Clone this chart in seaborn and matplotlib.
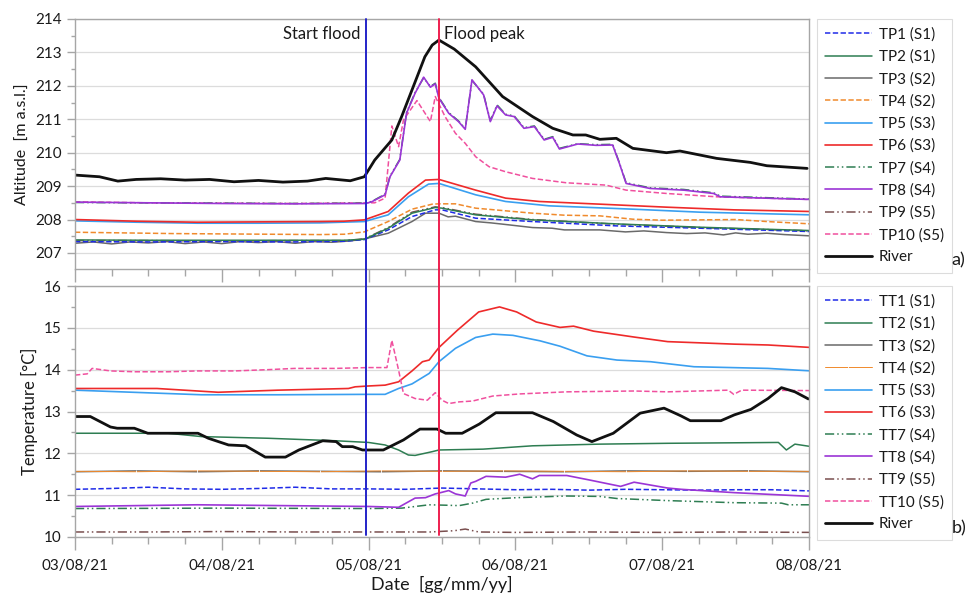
import matplotlib
matplotlib.use("Agg")
import matplotlib.pyplot as plt
from matplotlib.ticker import MultipleLocator
import seaborn as sns
import pandas as pd

# ---------------- data (hours since 03/08/21 00:00) ----------------
DAY_LABELS = ["03/08/21", "04/08/21", "05/08/21", "06/08/21", "07/08/21", "08/08/21"]
START_FLOOD_H = 47.5
FLOOD_PEAK_H = 59.5

# --- panel a) water levels [m a.s.l.]
TP1_H = [0, 12, 24, 36, 44, 47.3, 51.2, 55.1, 58.9, 60, 65.5, 74.8, 88.5, 102.2, 120.3]
TP1_V = [207.34, 207.33, 207.34, 207.33, 207.35, 207.40, 207.69, 208.09, 208.29, 208.29, 208.04, 207.94, 207.81, 207.74, 207.64]
TP2_H = [0, 12, 24, 36, 44, 47.3, 51.2, 55.1, 58.9, 60, 65.5, 74.8, 88.5, 102.2, 120.3]
TP2_V = [207.39, 207.38, 207.38, 207.38, 207.38, 207.41, 207.74, 208.19, 208.36, 208.34, 208.14, 207.99, 207.87, 207.77, 207.67]
TP3_H = [0, 3, 6, 9, 12, 15, 18, 21, 24, 27, 30, 33, 36, 39, 42, 45, 47.3, 51.2, 55.1, 57.3, 59.5,
         61, 62.2, 65.5, 68, 70, 74.8, 78, 80, 85.8, 90, 93, 96.7, 100, 103, 106, 108, 110, 113.1, 116, 120.3]
TP3_V = [207.29, 207.33, 207.27, 207.33, 207.30, 207.34, 207.28, 207.33, 207.28, 207.34, 207.31, 207.34,
         207.29, 207.34, 207.32, 207.36, 207.42, 207.59, 207.94, 208.19, 208.19, 208.08, 208.10, 207.94,
         207.90, 207.86, 207.76, 207.74, 207.69, 207.69, 207.63, 207.66, 207.61, 207.58, 207.60, 207.54,
         207.60, 207.56, 207.59, 207.55, 207.51]
TP4_H = [0, 8, 16, 24, 32, 40, 44, 47.3, 51.2, 55.1, 58.4, 59.5, 62.2, 65.5, 74.8, 80, 85.8, 91.2, 96, 102.2, 108, 113.1, 120.3]
TP4_V = [207.62, 207.60, 207.58, 207.57, 207.56, 207.55, 207.56, 207.63, 207.94, 208.31, 208.46, 208.47,
         208.47, 208.34, 208.19, 208.13, 208.11, 208.01, 207.98, 207.99, 208.00, 207.94, 207.87]
TP5_H = [0, 10, 20, 30, 40, 47.3, 51.2, 54.5, 57.8, 59.5, 65.5, 70.4, 77.5, 91.2, 102.2, 120.3]
TP5_V = [207.96, 207.92, 207.89, 207.89, 207.90, 207.94, 208.14, 208.68, 209.06, 209.08, 208.74, 208.54,
         208.41, 208.31, 208.22, 208.14]
TP6_H = [0, 10, 20, 30, 40, 44, 47.3, 51.2, 54.5, 57.3, 59.5, 65.5, 70.4, 75.9, 85.8, 96.7, 107.7, 120.3]
TP6_V = [208.00, 207.95, 207.92, 207.93, 207.94, 207.95, 207.99, 208.24, 208.79, 209.18, 209.20, 208.88,
         208.64, 208.54, 208.46, 208.37, 208.29, 208.24]
TP7_H = [0, 12, 24, 36, 47.5, 48.5, 50.7, 51.5, 53.1, 54.2, 55.6, 57.0, 58.1, 58.9, 59.5, 61.1, 62.7, 63.8,
         64.9, 66.8, 67.9, 69.0, 70.4, 71.8, 73.4, 75.1, 76.7, 78.1, 79.2, 82.2, 85.2, 87.9, 89.0, 90.1,
         94.0, 99.5, 104.4, 105.5, 120.3]
TP7_V = [208.51, 208.50, 208.49, 208.48, 208.49, 208.54, 208.76, 209.30, 209.80, 211.20, 211.80, 212.24,
         211.98, 212.08, 211.65, 211.20, 210.95, 210.72, 212.16, 211.75, 210.96, 211.43, 211.15, 211.10,
         210.75, 210.80, 210.40, 210.48, 210.13, 210.27, 210.24, 210.25, 209.70, 209.10, 208.95, 208.90,
         208.80, 208.70, 208.61]
TP8_H = [0, 12, 24, 36, 47.5, 48.5, 50.7, 51.5, 53.1, 54.2, 55.6, 57.0, 58.1, 58.9, 59.5, 61.1, 62.7, 63.8,
         64.9, 66.8, 67.9, 69.0, 70.4, 71.8, 73.4, 75.1, 76.7, 78.1, 79.2, 82.2, 85.2, 87.9, 89.0, 90.1,
         94.0, 99.5, 104.4, 105.5, 120.3]
TP8_V = [208.52, 208.50, 208.48, 208.47, 208.48, 208.53, 208.74, 209.28, 209.78, 211.18, 211.78, 212.26,
         211.96, 212.06, 211.63, 211.18, 210.93, 210.70, 212.18, 211.73, 210.93, 211.40, 211.13, 211.08,
         210.73, 210.78, 210.38, 210.46, 210.11, 210.26, 210.22, 210.23, 209.68, 209.08, 208.93, 208.88,
         208.78, 208.68, 208.60]
TP9_H = [0, 12, 24, 36, 44, 47.3, 51.2, 55.1, 58.9, 60, 65.5, 74.8, 88.5, 102.2, 120.3]
TP9_V = [207.37, 207.37, 207.36, 207.37, 207.37, 207.42, 207.76, 208.22, 208.38, 208.36, 208.16, 208.00,
         207.86, 207.76, 207.66]
TP10_H = [0, 12, 24, 36, 47.5, 49, 50.7, 51.8, 52.9, 53.7, 55.9, 58.1, 58.9, 60.5, 62.2, 63.8, 65.5, 67.7,
          70.4, 74.8, 80.3, 86.8, 90.1, 96.7, 104.9, 120.3]
TP10_V = [208.53, 208.50, 208.49, 208.48, 208.50, 208.50, 208.64, 210.80, 210.18, 210.98, 211.56, 210.93,
          211.68, 211.08, 210.58, 210.28, 209.88, 209.58, 209.43, 209.23, 209.10, 209.03, 208.88, 208.78,
          208.68, 208.60]
RIVER_A_H = [0, 4, 7, 10, 14, 18, 22, 26, 30, 34, 38, 41, 45, 47.3, 49, 51.8, 53.4, 55.1, 57.2, 58.4, 59.5,
             62, 65.5, 69.9, 74.8, 78.1, 81.4, 83.5, 85.8, 88.5, 91.2, 96.7, 98.9, 104.9, 110.4, 113.1, 119.7]
RIVER_A_V = [209.33, 209.28, 209.15, 209.20, 209.22, 209.18, 209.20, 209.13, 209.17, 209.12, 209.15, 209.23,
             209.16, 209.28, 209.78, 210.38, 211.08, 211.88, 212.87, 213.22, 213.37, 213.10, 212.57, 211.68,
             211.08, 210.73, 210.53, 210.53, 210.40, 210.43, 210.13, 210.00, 210.05, 209.83, 209.71, 209.61,
             209.53]

# --- panel b) temperatures [°C]
TT1_H = [0, 6, 12, 18, 24, 30, 36, 42, 48, 54, 60, 66, 72, 78, 84, 90, 96, 102, 108, 114, 120.4]
TT1_V = [11.14, 11.16, 11.19, 11.15, 11.14, 11.16, 11.19, 11.15, 11.15, 11.14, 11.17, 11.15, 11.13, 11.14,
         11.12, 11.14, 11.13, 11.12, 11.13, 11.13, 11.10]
TT2_H = [0, 15.2, 20.7, 31.6, 42.7, 48, 50.7, 52.9, 54.5, 55.6, 58.4, 59.5, 66.7, 74.8, 85.8, 96.9, 115,
         116.3, 117.7, 120.4]
TT2_V = [12.48, 12.48, 12.40, 12.36, 12.30, 12.26, 12.20, 12.08, 11.96, 11.95, 12.04, 12.08, 12.10, 12.18,
         12.22, 12.24, 12.26, 12.08, 12.22, 12.16]
TT3_H = [0, 10, 20, 30, 40, 50, 60, 70, 80, 90, 100, 110, 120.4]
TT3_V = [11.56, 11.58, 11.56, 11.58, 11.57, 11.56, 11.58, 11.57, 11.56, 11.58, 11.57, 11.58, 11.56]
TT4_H = [0, 10, 20, 30, 40, 50, 60, 70, 80, 90, 100, 110, 120.4]
TT4_V = [11.57, 11.56, 11.58, 11.57, 11.56, 11.58, 11.57, 11.58, 11.57, 11.56, 11.58, 11.57, 11.57]
TT5_H = [0, 20.7, 33.2, 48, 50.7, 52.9, 55.1, 57.9, 59.5, 62.2, 65.5, 68.3, 71.6, 76, 79.3, 83.7, 88.6,
         94.1, 101.2, 113.3, 120.4]
TT5_V = [13.51, 13.40, 13.40, 13.41, 13.41, 13.55, 13.66, 13.91, 14.19, 14.51, 14.77, 14.85, 14.82, 14.69,
         14.56, 14.33, 14.23, 14.19, 14.07, 14.03, 13.97]
TT6_H = [0, 13.4, 23.4, 33.2, 44.7, 45.8, 48, 50.7, 52.9, 55.1, 56.8, 57.9, 59.5, 62.5, 66, 69.4, 72.2, 75.4,
         79.3, 81.5, 84.8, 91.4, 96.9, 102.4, 107.8, 113.3, 120.4]
TT6_V = [13.55, 13.55, 13.46, 13.51, 13.55, 13.59, 13.61, 13.63, 13.71, 13.97, 14.19, 14.23, 14.53, 14.94,
         15.38, 15.50, 15.38, 15.14, 15.01, 15.04, 14.92, 14.78, 14.67, 14.64, 14.61, 14.59, 14.53]
TT7_H = [0, 24, 48, 53.4, 57.9, 60.6, 62.8, 65, 67.2, 72.2, 80.4, 85.8, 88.6, 96.9, 107.8, 115.5, 116.6, 120.4]
TT7_V = [10.68, 10.69, 10.68, 10.69, 10.77, 10.76, 10.75, 10.81, 10.90, 10.94, 10.98, 10.97, 10.92, 10.87,
         10.82, 10.81, 10.77, 10.77]
TT8_H = [0, 20, 48, 52.9, 55.6, 57.3, 58.9, 59.5, 61.1, 62.2, 63.8, 64.7, 65.5, 67.2, 70.4, 72.7, 74.8, 75.9,
         80.4, 84.2, 89.2, 91.4, 96.9, 99.1, 107.8, 120.4]
TT8_V = [10.73, 10.77, 10.73, 10.71, 10.93, 10.94, 11.03, 11.05, 11.11, 11.03, 10.98, 11.29, 11.33, 11.45,
         11.43, 11.50, 11.39, 11.47, 11.47, 11.36, 11.21, 11.31, 11.17, 11.14, 11.06, 10.97]
TT9_H = [0, 12, 24, 36, 48, 58, 62, 63.8, 66, 72, 84, 96, 108, 120.4]
TT9_V = [10.12, 10.12, 10.13, 10.12, 10.12, 10.12, 10.15, 10.19, 10.12, 10.11, 10.12, 10.11, 10.12, 10.11]
TT10_H = [0, 2, 2.8, 5.8, 9.7, 15.2, 20, 26.1, 31.5, 35.9, 42.5, 48, 51, 51.8, 52.9, 53.7, 55.6, 57.6, 58.9,
          60, 61.1, 62.8, 65, 68.3, 72.7, 80.4, 91.4, 96.9, 106.8, 107.7, 109, 120.4]
TT10_V = [13.87, 13.90, 14.03, 13.97, 13.95, 13.95, 13.97, 13.97, 14.00, 14.03, 14.03, 14.05, 14.05, 14.70,
          13.99, 13.43, 13.31, 13.27, 13.45, 13.27, 13.19, 13.23, 13.25, 13.37, 13.42, 13.47, 13.49, 13.47,
          13.51, 13.41, 13.51, 13.50]
RIVER_B_H = [0, 2.5, 5.8, 6.9, 9.7, 11.9, 20.1, 21.8, 25.1, 27.9, 31.1, 34.4, 36.6, 40.5, 42.7, 43.7, 45.4,
             47, 50.4, 53.7, 56.4, 59.2, 60.6, 63.3, 66.1, 68.8, 74.8, 78.2, 82, 84.5, 88, 92.4, 96.3, 99,
             100.6, 105.6, 107.8, 110.5, 113.3, 115.5, 117.7, 119.9]
RIVER_B_V = [12.88, 12.88, 12.63, 12.60, 12.60, 12.48, 12.48, 12.36, 12.20, 12.18, 11.91, 11.91, 12.08, 12.30,
             12.28, 12.16, 12.16, 12.08, 12.08, 12.32, 12.58, 12.58, 12.48, 12.48, 12.70, 12.97, 12.97, 12.76,
             12.44, 12.28, 12.48, 12.96, 13.08, 12.90, 12.78, 12.78, 12.92, 13.05, 13.31, 13.57, 13.47, 13.30]

# ---------------- styling ----------------
DDOT = (0, (6, 2, 1, 2, 1, 2))
DASH = (0, (3.5, 1.6))
STYLES = {
    1: ("#1f2be8", DASH, 1.1),
    2: ("#2e7d52", "-", 1.1),
    3: ("#6a6a6a", "-", 1.1),
    4: ("#f08a2c", DASH, 1.1),
    5: ("#3a9ff0", "-", 1.2),
    6: ("#ee2a2a", "-", 1.2),
    7: ("#2e7d52", DDOT, 1.1),
    8: ("#9b35d6", "-", 1.2),
    9: ("#7a4f4f", DDOT, 1.1),
    10: ("#f0509e", DASH, 1.1),
}
RIVER_STYLE = ("#111111", "-", 2.0)

sns.set_theme(style="white")
plt.rcParams["font.family"] = ["Lato", "DejaVu Sans"]
TXT = "#1a1a1a"
FRAME = "#a6a6a6"

fig = plt.figure(figsize=(9.67, 5.96), dpi=100)
W, H = 967.0, 596.0
axA = fig.add_axes([75 / W, 1 - 269 / H, 734 / W, 250 / H])
axB = fig.add_axes([75 / W, 1 - 537 / H, 734 / W, 251 / H])

top_series = [
    ("TP1 (S1)", TP1_H, TP1_V, 1), ("TP2 (S1)", TP2_H, TP2_V, 2), ("TP3 (S2)", TP3_H, TP3_V, 3),
    ("TP4 (S2)", TP4_H, TP4_V, 4), ("TP5 (S3)", TP5_H, TP5_V, 5), ("TP6 (S3)", TP6_H, TP6_V, 6),
    ("TP7 (S4)", TP7_H, TP7_V, 7), ("TP8 (S4)", TP8_H, TP8_V, 8), ("TP9 (S5)", TP9_H, TP9_V, 9),
    ("TP10 (S5)", TP10_H, TP10_V, 10), ("River", RIVER_A_H, RIVER_A_V, 0),
]
bot_series = [
    ("TT1 (S1)", TT1_H, TT1_V, 1), ("TT2 (S1)", TT2_H, TT2_V, 2), ("TT3 (S2)", TT3_H, TT3_V, 3),
    ("TT4 (S2)", TT4_H, TT4_V, 4), ("TT5 (S3)", TT5_H, TT5_V, 5), ("TT6 (S3)", TT6_H, TT6_V, 6),
    ("TT7 (S4)", TT7_H, TT7_V, 7), ("TT8 (S4)", TT8_H, TT8_V, 8), ("TT9 (S5)", TT9_H, TT9_V, 9),
    ("TT10 (S5)", TT10_H, TT10_V, 10), ("River", RIVER_B_H, RIVER_B_V, 0),
]


def draw(ax, series, bottom=False):
    handles = {}
    order = [3, 9, 1, 2, 4, 5, 6, 10, 7, 8, 0]
    lookup = {s[3]: s for s in series}
    for k in order:
        name, hh, vv, idx = lookup[k]
        col, ls, lw = RIVER_STYLE if idx == 0 else STYLES[idx]
        df = pd.DataFrame({"hours": hh, "value": vv})
        kw = {}
        if bottom and idx == 4:
            lw = 0.7
            ls = "-"
            kw = dict(marker="|", markersize=3, markeredgewidth=0.6)
        sns.lineplot(data=df, x="hours", y="value", ax=ax, color=col, linewidth=lw,
                     linestyle=ls, label=name, legend=False, sort=True, **kw)
        handles[name] = ax.get_lines()[-1]
    names = [s[0] for s in series]
    leg = ax.legend([handles[n] for n in names], names, loc="upper left",
                    bbox_to_anchor=(1.0105, 1.0), borderaxespad=0, frameon=True, fancybox=False,
                    edgecolor="#d4d4d4", handlelength=3.05, handletextpad=0.45, labelspacing=0.52,
                    fontsize=11, borderpad=0.55, labelcolor=TXT)
    leg.get_frame().set_linewidth(0.8)
    return leg


draw(axA, top_series)
draw(axB, bot_series, bottom=True)

for ax in (axA, axB):
    ax.set_xlim(0, 120)
    ax.xaxis.set_major_locator(MultipleLocator(24))
    ax.xaxis.set_minor_locator(MultipleLocator(6))
    ax.yaxis.set_minor_locator(MultipleLocator(0.5))
    ax.grid(True, axis="y", which="major", color="#dcdcdc", linewidth=0.9)
    ax.set_axisbelow(True)
    for sp in ax.spines.values():
        sp.set_color(FRAME)
        sp.set_linewidth(1.0)
    ax.tick_params(axis="x", which="major", direction="out", length=9, width=1, color=FRAME,
                   labelsize=11, labelcolor=TXT, pad=7, bottom=True)
    ax.tick_params(axis="x", which="minor", direction="out", length=5, width=1, color=FRAME, bottom=True)
    ax.tick_params(axis="y", which="major", direction="out", length=6, width=1, color=FRAME,
                   labelsize=11, labelcolor=TXT, pad=3.5, left=True)
    ax.tick_params(axis="y", which="minor", direction="out", length=3, width=1, color=FRAME, left=True)

axA.set_ylim(206.52, 214)
axA.set_yticks(list(range(207, 215)))
axA.set_xticklabels([])
axA.set_xlabel("")
axA.set_ylabel("Altitude  [m a.s.l.]", fontsize=11.5, color=TXT, labelpad=4)

axB.set_ylim(10, 16)
axB.set_yticks(list(range(10, 17)))
axB.set_xticks([24 * i for i in range(len(DAY_LABELS))])
axB.set_xticklabels(DAY_LABELS)
axB.set_xlabel("Date  [gg/mm/yy]", fontsize=13, color=TXT, labelpad=2)
axB.set_ylabel("Temperature [°C]", fontsize=12, color=TXT, labelpad=4)

# event lines spanning both panels
gap = 17 / 251
axA.axvline(START_FLOOD_H, ymin=0, ymax=1, color="#2424c8", lw=1.4, clip_on=False, zorder=5)
axB.axvline(START_FLOOD_H, ymin=0.008, ymax=1 + gap, color="#2424c8", lw=1.4, clip_on=False, zorder=5)
axA.axvline(FLOOD_PEAK_H, ymin=0, ymax=1, color="#ee1f4f", lw=1.4, clip_on=False, zorder=5)
axB.axvline(FLOOD_PEAK_H, ymin=0.008, ymax=1 + gap, color="#ee1f4f", lw=1.4, clip_on=False, zorder=5)

axA.text(START_FLOOD_H - 0.8, 213.55, "Start flood", ha="right", va="center", fontsize=12, color=TXT)
axA.text(FLOOD_PEAK_H + 0.8, 213.55, "Flood peak", ha="left", va="center", fontsize=12, color=TXT)

fig.text(958 / W, 1 - 260 / H, "a)", ha="center", va="center", fontsize=13, color=TXT)
fig.text(959 / W, 1 - 528 / H, "b)", ha="center", va="center", fontsize=13, color=TXT)

fig.savefig("out.png", dpi=100)
